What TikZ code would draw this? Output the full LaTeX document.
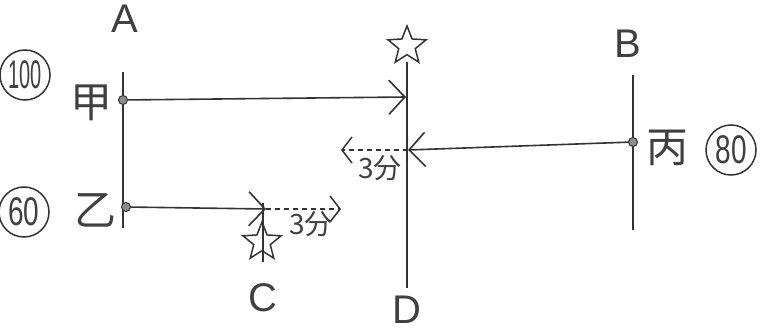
\documentclass[tikz,border=0pt]{standalone}
\usepackage{fontspec}
\setmainfont{Liberation Sans}
\newfontfamily\cjk{Noto Sans CJK JP}
\usetikzlibrary{arrows.meta,shapes.geometric}
\begin{document}
\begin{tikzpicture}[x=1pt,y=-1pt,
  pen/.style={line width=1.6pt,draw=black!80},
  mv/.style={pen,-{Straight Barb[length=16pt,width=34pt,line width=1.6pt]}},
  dmv/.style={pen,line width=1.3pt,dash pattern=on 5pt off 4pt,-{Straight Barb[length=10pt,width=26pt,line width=1.5pt]}},
  pt/.style={circle,draw=black!80,fill=black!45,line width=1pt,inner sep=0pt,minimum size=9pt},
  lbl/.style={font=\fontsize{40}{40}\selectfont\color{black!75}},
  cj/.style={font=\cjk\fontsize{42}{42}\selectfont\color{black!75}},
  num/.style={circle,draw=black!80,line width=1.5pt,inner sep=0pt,minimum size=50pt,font=\fontsize{40}{40}\selectfont\color{black!75}},
  starmk/.style={star,star points=5,star point ratio=2.3,draw=black!80,line width=1.5pt,minimum size=40pt,inner sep=0pt},
  small/.style={font=\cjk\fontsize{28}{28}\selectfont\color{black!75}}]
\useasboundingbox (0,0) rectangle (763,331);
% vertical lines
\coordinate (Atop) at (123,72); \coordinate (Abot) at (123,228);
\coordinate (Dtop) at (407,62); \coordinate (Dbot) at (407,288);
\coordinate (Btop) at (633,75); \coordinate (Bbot) at (633,230);
\coordinate (Ctop) at (263,203); \coordinate (Cbot) at (263,262);
\draw[pen] (Atop) -- (Abot);
\draw[pen] (Dtop) -- (Dbot);
\draw[pen] (Btop) -- (Bbot);
\draw[pen] (Ctop) -- (Cbot);
% labels
\node[lbl] (A) at (125,19) {A};
\node[lbl] (B) at (628,44) {B};
\node[lbl] (C) at (263,298) {C};
\node[lbl] (D) at (407,310) {D};
% stars
\node[starmk] (s1) at (407,46) {};
\node[starmk] (s2) at (262,242) {};
% points
\node[pt] (p1) at (123,100) {};
\node[pt] (p2) at (126,207) {};
\node[pt] (p3) at (633,142) {};
\coordinate (e1) at (406,97);
\coordinate (e2) at (266,209);
\coordinate (e3) at (408,150);
\draw[mv] (p1) -- (e1);
\draw[mv] (p2) -- (e2);
\draw[mv] (p3) -- (e3);
% dashed
\coordinate (d1) at (341,150);
\coordinate (d2) at (341,209);
\draw[dmv] (e3) -- (d1);
\draw[dmv] (e2) -- (d2);
\node[small] (t1) at (380,168) {3分};
\node[small] (t2) at (311,224) {3分};
% names
\node[cj] (n1) at (91,103) {甲};
\node[cj] (n2) at (95,210) {乙};
\node[cj] (n3) at (667,148) {丙};
\node[num] (c1) at (25,75) {\scalebox{0.5}[1]{100}};
\node[num] (c2) at (24,212) {\scalebox{0.7}[1]{60}};
\node[num] (c3) at (731,150) {\scalebox{0.7}[1]{80}};
\end{tikzpicture}
\end{document}
